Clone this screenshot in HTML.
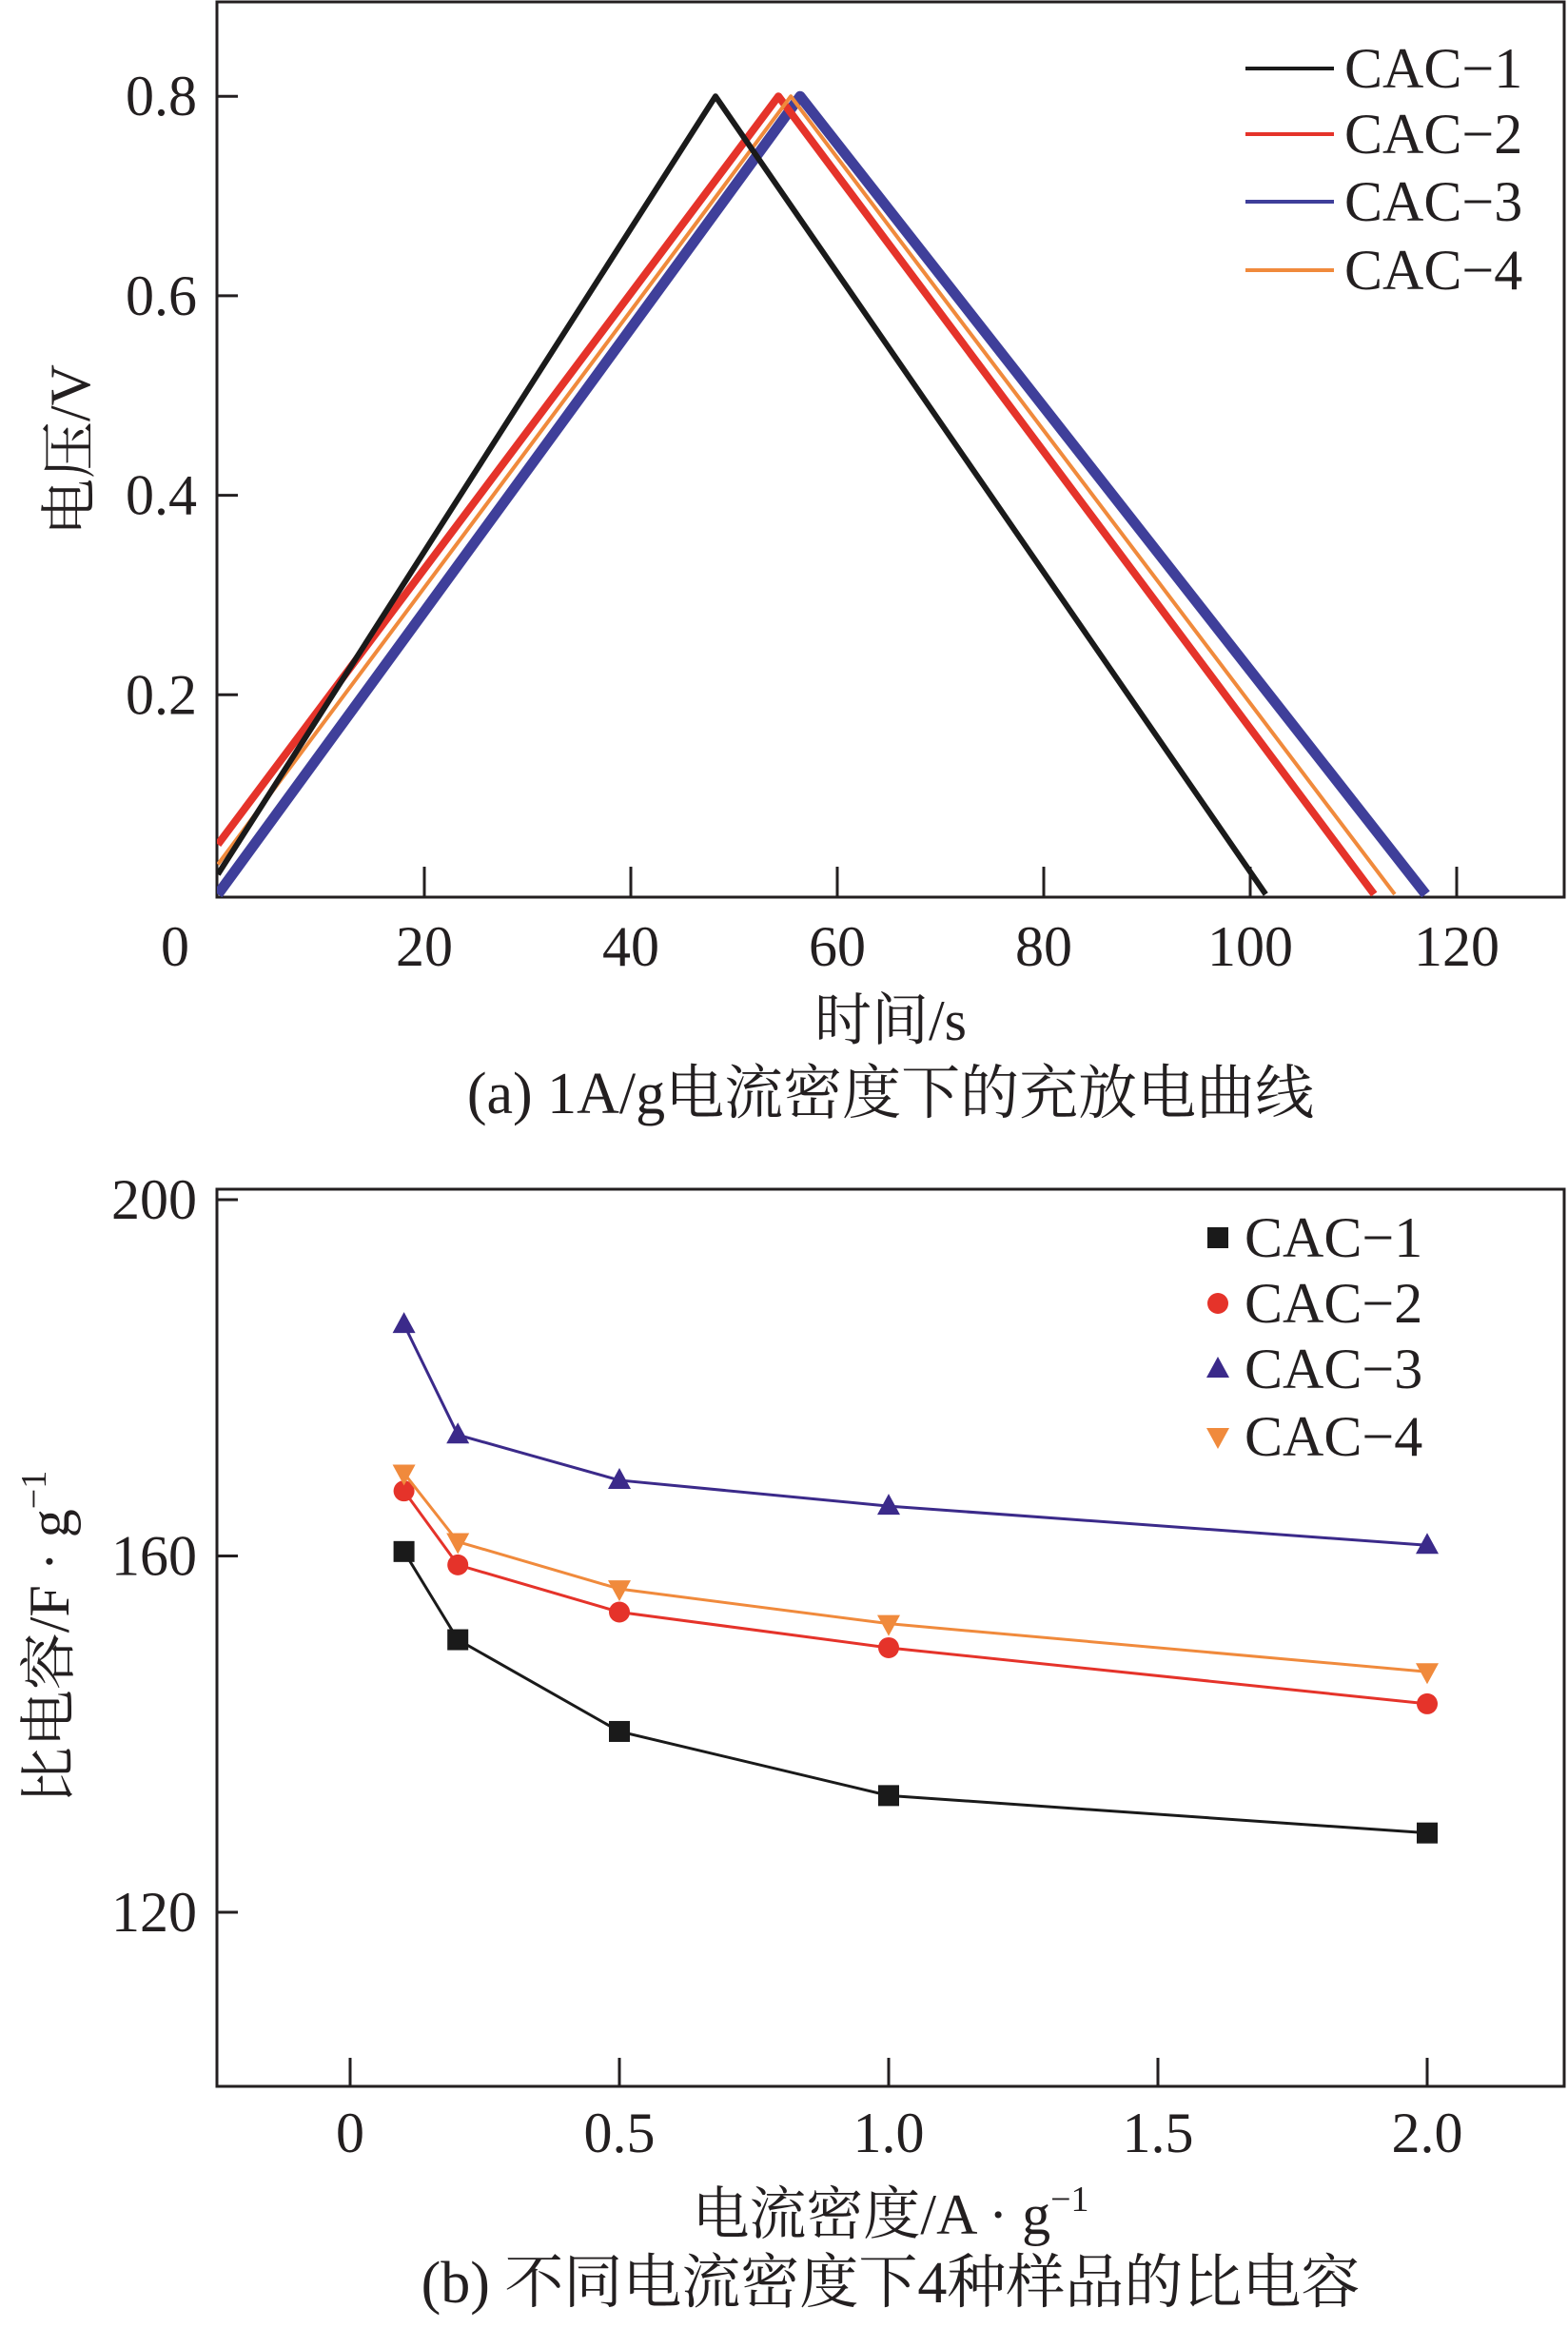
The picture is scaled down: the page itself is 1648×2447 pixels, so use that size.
<!DOCTYPE html>
<html><head><meta charset="utf-8"><style>
body{margin:0;background:#fff;}
svg{display:block;font-family:"Liberation Serif","Noto Serif CJK SC",serif;}
text{fill:#231f20;}
</style></head><body>
<svg id="chart" width="1648" height="2447" viewBox="0 0 1648 2447" xmlns="http://www.w3.org/2000/svg">
<defs>
<clipPath id="clipA"><rect x="228" y="2" width="1416" height="941"/></clipPath>
<clipPath id="clipB"><rect x="228" y="1250" width="1416" height="943"/></clipPath>
</defs>
<g id="chartA"></g>
<g id="chartB"></g>
</svg>
<script>
// ---- Chart A data ----
const aSeries = ["CAC-1","CAC-2","CAC-3","CAC-4"];
const aStartV = [0.02, 0.05, 0.0, 0.03];
const aPeakT = [48.2, 54.3, 56.4, 55.5];
const aPeakV = [0.8, 0.8, 0.8, 0.8];
const aEndT = [101.5, 112, 117, 114];
const aXTicks = [0,20,40,60,80,100,120];
const aYTicks = [0.2,0.4,0.6,0.8];
// ---- Chart B data ----
const bCats = [0.1,0.2,0.5,1.0,2.0];
const bSeries = ["CAC-1","CAC-2","CAC-3","CAC-4"];
const bCac1 = [160.5,150.6,140.3,133.1,128.9];
const bCac2 = [167.3,159.0,153.7,149.7,143.4];
const bCac3 = [186.0,173.6,168.5,165.6,161.2];
const bCac4 = [169.3,161.6,156.3,152.4,147.0];
const bXTicks = [0,0.5,1.0,1.5,2.0];
const bXLabels = ["0","0.5","1.0","1.5","2.0"];
const bYTicks = [120,160,200];

const NS="http://www.w3.org/2000/svg";
const FS=60;
function mk(parent,tag,attrs,txt){const e=document.createElementNS(NS,tag);for(const k in attrs)e.setAttribute(k,attrs[k]);if(txt!==undefined)e.textContent=txt;parent.appendChild(e);return e;}

// ===== Chart A =====
const A=document.getElementById('chartA');
const ax=t=>229+t*10.85;
const ay=v=>940-v*1048.5;
const aColors=["#1a1a1a","#e5332a","#3f3f9a","#f08a3c"];
const aWidths=[6,8,11,4];
const aOrder=[2,1,3,0];
let r=mk(A,'rect',{x:228,y:2,width:1416,height:941,fill:'none',stroke:'#231f20','stroke-width':3});


aXTicks.forEach(t=>{
  if(t>0){let l=mk(A,'line',{x1:ax(t),x2:ax(t),y1:943,y2:911,stroke:'#231f20','stroke-width':3});
  
  }
  let tx=mk(A,'text',{x:t===0?184:ax(t),y:1015,'font-size':FS,'text-anchor':'middle'},String(t));
  
  
});
aYTicks.forEach(v=>{
  let l=mk(A,'line',{x1:228,x2:250,y1:ay(v),y2:ay(v),stroke:'#231f20','stroke-width':3});
  
  
  let tx=mk(A,'text',{x:207,y:ay(v)+20,'font-size':FS,'text-anchor':'end'},v.toFixed(1));
  
  
});
const gA=mk(A,'g',{'clip-path':'url(#clipA)'});
aOrder.forEach(i=>{
  const pts=[[0,aStartV[i]],[aPeakT[i],aPeakV[i]],[aEndT[i],0]].map(p=>ax(p[0])+','+ay(p[1])).join(' ');
  let pl=mk(gA,'polyline',{points:pts,fill:'none',stroke:aColors[i],'stroke-width':aWidths[i],'stroke-linejoin':'round'});
  
  
});
const aLegY=[72,141,212,284];
aSeries.forEach((s,i)=>{
  let l=mk(A,'line',{x1:1309,x2:1402,y1:aLegY[i],y2:aLegY[i],stroke:aColors[i],'stroke-width':4});
  
  
  let t=mk(A,'text',{x:1413,y:aLegY[i]+20,'font-size':FS},s.replace('-','\u2212'));
  
  
});
let yt=mk(A,'text',{x:0,y:0,'font-size':FS,'text-anchor':'middle',transform:'translate(94,473) rotate(-90)'},'电压/V');


let xt=mk(A,'text',{x:936,y:1093,'font-size':FS,'text-anchor':'middle'},'时间/s');


let ca=mk(A,'text',{x:936,y:1170,'font-size':62,'text-anchor':'middle'},'(a) 1A/g电流密度下的充放电曲线');



// ===== Chart B =====
const B=document.getElementById('chartB');
const bx=v=>368+v*566;
const by=v=>2010-(v-120)*9.362;
const bColors=["#1a1a1a","#e5332a","#3b2a8a","#f08a3c"];
const bData=[bCac1,bCac2,bCac3,bCac4];
let rb=mk(B,'rect',{x:228,y:1250,width:1416,height:943,fill:'none',stroke:'#231f20','stroke-width':3});


bXTicks.forEach((v,i)=>{
  let l=mk(B,'line',{x1:bx(v),x2:bx(v),y1:2193,y2:2163,stroke:'#231f20','stroke-width':3});
  
  
  let t=mk(B,'text',{x:bx(v),y:2262,'font-size':FS,'text-anchor':'middle'},bXLabels[i]);
  
  
});
bYTicks.forEach(v=>{
  let l=mk(B,'line',{x1:228,x2:250,y1:by(v),y2:by(v),stroke:'#231f20','stroke-width':3});
  
  
  let t=mk(B,'text',{x:207,y:by(v)+20,'font-size':FS,'text-anchor':'end'},String(v));
  
  
});
function marker(g,i,x,y){
  let m;
  if(i===0) m=mk(g,'rect',{x:x-11,y:y-11,width:22,height:22,fill:bColors[0]});
  else if(i===1) m=mk(g,'circle',{cx:x,cy:y,r:11,fill:bColors[1]});
  else if(i===2) m=mk(g,'polygon',{points:`${x},${y-13} ${x-12},${y+9} ${x+12},${y+9}`,fill:bColors[2]});
  else m=mk(g,'polygon',{points:`${x},${y+13} ${x-12},${y-9} ${x+12},${y-9}`,fill:bColors[3]});
  return m;
}
const gB=mk(B,'g',{'clip-path':'url(#clipB)'});
bData.forEach((d,i)=>{
  const pts=d.map((v,j)=>bx(bCats[j])+','+by(v)).join(' ');
  let pl=mk(gB,'polyline',{points:pts,fill:'none',stroke:bColors[i],'stroke-width':3});
  
  
  d.forEach((v,j)=>{
    let m=marker(gB,i,bx(bCats[j]),by(v));
    
    
  });
});
const bLegY=[1301,1370,1439,1510];
bSeries.forEach((s,i)=>{
  let m=marker(B,i,1280,bLegY[i]);
  
  
  let t=mk(B,'text',{x:1308,y:bLegY[i]+20,'font-size':FS},s.replace('-','\u2212'));
  
  
});
let ytb=mk(B,'text',{x:0,y:0,'font-size':FS,'text-anchor':'middle',transform:'translate(72,1721) rotate(-90)'});


ytb.innerHTML='比电容/F · g<tspan dy="-24" font-size="38">−1</tspan>';
let xtb=mk(B,'text',{x:936,y:2348,'font-size':FS,'text-anchor':'middle'});


xtb.innerHTML='电流密度/A · g<tspan dy="-24" font-size="38">−1</tspan>';
let cb=mk(B,'text',{x:936,y:2420,'font-size':62,'text-anchor':'middle'},'(b) 不同电流密度下4种样品的比电容');


</script>
</body></html>
